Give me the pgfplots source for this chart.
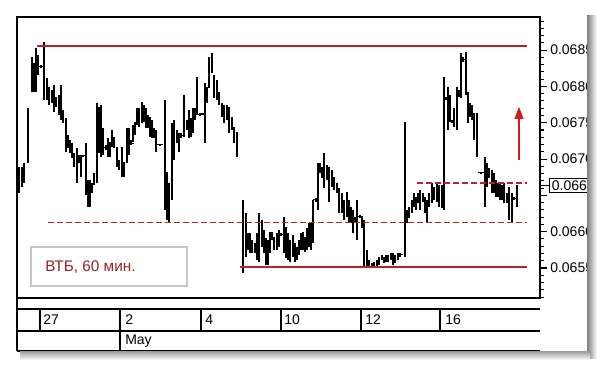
\documentclass[border=0pt]{standalone}
\usepackage{pgfplots}
\pgfplotsset{compat=1.18}
\usepackage{pgfplotstable}
\usepackage{fontspec}
\setmainfont{Liberation Sans}
\usetikzlibrary{arrows.meta}
\definecolor{lvl}{RGB}{175,40,40}
\definecolor{arr}{RGB}{212,28,28}
\definecolor{lbl}{RGB}{150,35,35}

\pgfplotstableread{
x lo hi
19 0.06653 0.06689
22 0.06662 0.06689
24 0.06667 0.06694
28 0.06694 0.06770
32 0.06792 0.06840
34 0.06792 0.06832
36 0.06792 0.06853
38 0.06816 0.06843
41 0.06825 0.06829
44 0.06781 0.06861
47 0.06781 0.06812
49 0.06774 0.06799
52 0.06777 0.06795
54 0.06765 0.06802
56 0.06772 0.06785
59 0.06761 0.06788
61 0.06754 0.06802
63 0.06750 0.06768
66 0.06710 0.06757
68 0.06715 0.06733
70 0.06708 0.06726
72 0.06701 0.06722
74 0.06689 0.06708
77 0.06667 0.06715
79 0.06694 0.06706
81 0.06675 0.06706
83 0.06703 0.06706
86 0.06650 0.06722
88 0.06634 0.06671
90 0.06634 0.06671
92 0.06653 0.06667
94 0.06664 0.06681
97 0.06667 0.06777
99 0.06708 0.06772
101 0.06703 0.06774
103 0.06706 0.06743
106 0.06712 0.06719
108 0.06703 0.06729
110 0.06703 0.06723
112 0.06717 0.06740
114 0.06715 0.06730
117 0.06689 0.06717
119 0.06685 0.06699
122 0.06675 0.06717
124 0.06675 0.06696
127 0.06694 0.06743
129 0.06706 0.06743
131 0.06719 0.06726
133 0.06723 0.06747
135 0.06733 0.06751
137 0.06747 0.06770
139 0.06744 0.06770
142 0.06750 0.06779
144 0.06751 0.06774
146 0.06743 0.06770
148 0.06743 0.06761
150 0.06730 0.06758
152 0.06729 0.06754
154 0.06729 0.06743
156 0.06710 0.06740
160 0.06718 0.06721
165 0.06630 0.06781
167 0.06616 0.06682
169 0.06612 0.06667
172 0.06644 0.06750
174 0.06699 0.06754
177 0.06722 0.06740
179 0.06710 0.06736
181 0.06729 0.06736
184 0.06730 0.06788
187 0.06740 0.06754
189 0.06729 0.06768
191 0.06730 0.06757
193 0.06736 0.06770
195 0.06754 0.06770
197 0.06761 0.06813
200 0.06759 0.06763
203 0.06761 0.06763
205 0.06722 0.06805
207 0.06777 0.06799
209 0.06798 0.06840
212 0.06818 0.06846
214 0.06784 0.06816
217 0.06781 0.06809
219 0.06774 0.06792
222 0.06758 0.06777
224 0.06750 0.06774
227 0.06754 0.06774
229 0.06736 0.06772
232 0.06740 0.06758
234 0.06722 0.06744
237 0.06703 0.06737
243 0.06543 0.06644
246 0.06565 0.06626
248 0.06575 0.06598
250 0.06571 0.06598
252 0.06571 0.06589
255 0.06571 0.06584
257 0.06561 0.06598
259 0.06558 0.06626
262 0.06579 0.06616
264 0.06571 0.06602
266 0.06554 0.06591
268 0.06554 0.06589
270 0.06571 0.06600
272 0.06589 0.06600
274 0.06575 0.06593
277 0.06575 0.06598
279 0.06579 0.06602
281 0.06594 0.06598
284 0.06571 0.06620
286 0.06564 0.06606
288 0.06561 0.06598
290 0.06558 0.06589
293 0.06565 0.06595
295 0.06558 0.06584
297 0.06561 0.06579
299 0.06568 0.06589
301 0.06575 0.06598
303 0.06575 0.06600
305 0.06572 0.06593
307 0.06575 0.06605
309 0.06579 0.06612
311 0.06575 0.06612
313 0.06584 0.06644
316 0.06641 0.06646
318 0.06630 0.06694
320 0.06681 0.06694
322 0.06674 0.06689
324 0.06660 0.06708
327 0.06671 0.06692
329 0.06641 0.06689
332 0.06662 0.06685
334 0.06657 0.06675
337 0.06653 0.06667
339 0.06626 0.06660
342 0.06626 0.06653
344 0.06616 0.06644
347 0.06620 0.06655
349 0.06612 0.06644
351 0.06612 0.06634
353 0.06598 0.06630
355 0.06612 0.06620
357 0.06589 0.06644
360 0.06619 0.06623
362 0.06605 0.06620
364 0.06550 0.06616
367 0.06550 0.06575
369 0.06550 0.06561
372 0.06550 0.06557
374 0.06550 0.06558
377 0.06550 0.06561
379 0.06554 0.06565
382 0.06561 0.06568
384 0.06557 0.06565
386 0.06558 0.06568
388 0.06558 0.06568
391 0.06561 0.06571
393 0.06554 0.06571
395 0.06557 0.06568
398 0.06561 0.06571
400 0.06565 0.06571
405 0.06565 0.06751
407 0.06612 0.06630
409 0.06619 0.06634
412 0.06626 0.06644
414 0.06634 0.06653
416 0.06630 0.06648
418 0.06639 0.06653
420 0.06630 0.06657
423 0.06641 0.06653
425 0.06626 0.06648
427 0.06612 0.06644
429 0.06634 0.06653
432 0.06639 0.06667
434 0.06644 0.06662
437 0.06641 0.06667
439 0.06634 0.06664
442 0.06633 0.06664
444 0.06630 0.06813
446 0.06781 0.06785
448 0.06740 0.06799
450 0.06751 0.06788
452 0.06750 0.06754
454 0.06744 0.06770
457 0.06740 0.06799
459 0.06785 0.06795
461 0.06784 0.06846
463 0.06834 0.06840
466 0.06788 0.06847
468 0.06750 0.06792
470 0.06758 0.06777
472 0.06754 0.06774
474 0.06726 0.06763
477 0.06703 0.06763
481 0.06679 0.06682
485 0.06634 0.06703
487 0.06662 0.06694
489 0.06674 0.06688
492 0.06653 0.06685
494 0.06653 0.06681
496 0.06648 0.06671
498 0.06648 0.06667
500 0.06644 0.06667
502 0.06644 0.06664
504 0.06639 0.06667
507 0.06639 0.06653
509 0.06616 0.06662
512 0.06613 0.06653
514 0.06644 0.06648
517 0.06634 0.06664
}\bars

\pgfplotstableread{
x y
41 0.06827
83 0.06705
106 0.06716
131 0.06722
160 0.06720
181 0.06733
200 0.06761
203 0.06762
281 0.06596
316 0.06644
360 0.06621
400 0.06568
446 0.06783
452 0.06752
463 0.06837
481 0.06681
514 0.06646
}\ticks

\begin{document}
\begin{tikzpicture}
\useasboundingbox (0,0) rectangle (450pt,-275.25pt);
\fill[white] (0,0) rectangle (450pt,-275.25pt);
\begin{scope}[x=0.75pt,y=-0.75pt]
  \fill[white] (17,17) rectangle (587,351);
\end{scope}
\begin{axis}[
  at={(12.75pt,-12.75pt)}, anchor=north west,
  scale only axis, width=392.25pt, height=210.75pt,
  xmin=17, xmax=540, ymin=0.065087, ymax=0.068956,
  xtick=\empty,
  scaled y ticks=false,
  ytick={0.0655,0.0660,0.0665,0.0670,0.0675,0.0680,0.0685},
  yticklabels={0.0655,0.0660,{},0.0670,0.0675,0.0680,0.0685},
  minor ytick={0.0651,0.0652,0.0653,0.0654,0.0656,0.0657,0.0658,0.0659,0.0661,0.0662,0.0663,0.0664,0.0666,0.0667,0.0668,0.0669,0.0671,0.0672,0.0673,0.0674,0.0676,0.0677,0.0678,0.0679,0.0681,0.0682,0.0683,0.0684,0.0686,0.0687,0.0688,0.0689},
  ytick pos=right, yticklabel pos=right,
  tick align=outside,
  major tick length=5pt, minor tick length=3pt,
  every tick/.style={black, line width=0.8pt},
  axis line style={black, line width=0.9pt},
  yticklabel style={font=\fontsize{10.5}{11}\selectfont, anchor=west, inner sep=0pt, xshift=2.5pt},
  clip=false,
]
\addplot[draw=none, mark=none, forget plot,
  error bars/.cd, y dir=plus, y explicit, error mark=none,
  error bar style={draw=black, solid, line width=0.8pt}]
  table[x=x, y=lo, y error expr=\thisrow{hi}-\thisrow{lo}] {\bars};
\addplot[only marks, mark=-, mark size=2pt, mark options={black, line width=0.8pt}, forget plot]
  table[x=x, y=y] {\ticks};
\draw[draw=lvl, line width=1.3pt] (axis cs:37,0.06856) -- (axis cs:527,0.06856);
\draw[draw=lvl, line width=1.3pt] (axis cs:240,0.06551) -- (axis cs:527,0.06551);
\draw[draw=lvl, line width=1pt, dash pattern=on 4.5pt off 2.25pt] (axis cs:48,0.06613) -- (axis cs:527,0.06613);
\draw[draw=lvl, line width=1pt, dash pattern=on 4.5pt off 2.25pt] (axis cs:417,0.06667) -- (axis cs:527,0.06667);
\draw[arr, line width=1.4pt, -{Triangle[width=6.5pt,length=9pt]}] (axis cs:519,0.06699) -- (axis cs:519,0.06772);
\coordinate (pl) at (axis cs:540,0.06664);
\end{axis}
\begin{scope}[x=0.75pt,y=-0.75pt]
  % label box
  \draw[black!22, fill=white, line width=0.9pt] (31,247) rectangle (187,286);
  \node[anchor=west, text=lbl, inner sep=0pt, font=\fontsize{11.5}{12}\selectfont] at (45,267) {ВТБ, 60 мин.};
  % current price box
  \draw[black, line width=0.8pt] (pl) -- ++(9,0);
  \node[draw=black, line width=0.8pt, fill=white, anchor=west, inner xsep=1.8pt, inner ysep=1.5pt, font=\fontsize{10.5}{11}\selectfont] at ([xshift=6.75pt]pl) {0.0666};
  % date strip
  \draw[black, line width=0.9pt] (17,298) -- (17,351);
  \draw[black, line width=0.8pt] (17,309) -- (540,309);
  \draw[black, line width=0.8pt] (17,331) -- (540,331);
  \draw[black, line width=0.9pt] (17,351) -- (540,351);
  \foreach \xx in {40,120,201,281,361,440} {\draw[black, line width=0.8pt] (\xx,309) -- (\xx,331);}
  \draw[black, line width=0.8pt] (120,331) -- (120,351);
  \begin{scope}[font=\fontsize{10.5}{11}\selectfont]
    \node[anchor=west, inner sep=0pt] at (43,320) {27};
    \node[anchor=west, inner sep=0pt] at (125,320) {2};
    \node[anchor=west, inner sep=0pt] at (205,320) {4};
    \node[anchor=west, inner sep=0pt] at (284,320) {10};
    \node[anchor=west, inner sep=0pt] at (365,320) {12};
    \node[anchor=west, inner sep=0pt] at (445,320) {16};
    \node[anchor=west, inner sep=0pt] at (125,341) {May};
  \end{scope}
  % right clipping edge and shadow
  \fill[white] (587,0) rectangle (600,367);
  \shade[left color=black!50, right color=white] (587,16) rectangle (597,358);
  \shade[top color=black!40, bottom color=white] (20,351) rectangle (590,360);
\end{scope}
\end{tikzpicture}
\end{document}
